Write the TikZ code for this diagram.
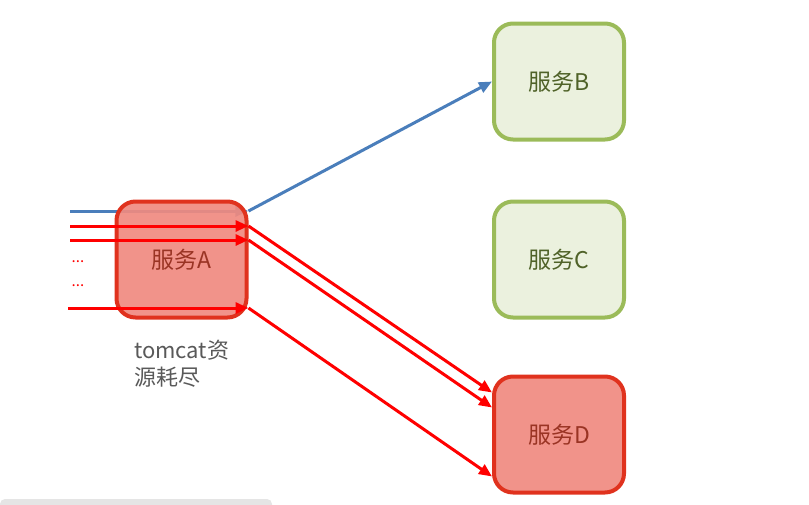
\documentclass[tikz,border=0pt]{standalone}
\usepackage{fontspec}
\setmainfont{Noto Sans CJK SC}
\usetikzlibrary{arrows.meta}
\definecolor{redfill}{HTML}{F08A80}
\definecolor{redborder}{HTML}{E0321E}
\definecolor{redtext}{HTML}{9A3424}
\definecolor{greenfill}{HTML}{EBF1DE}
\definecolor{greenborder}{HTML}{9BBB59}
\definecolor{greentext}{HTML}{4F6228}
\definecolor{bluearrow}{HTML}{4A7EBB}
\definecolor{labelgray}{HTML}{595959}
\tikzset{
  svcbox/.style={rounded corners=19pt, minimum width=130pt, minimum height=116pt, line width=4pt, font=\fontsize{23}{26}\selectfont, inner sep=0pt},
  redbox/.style={svcbox, draw=redborder, fill=redfill, fill opacity=0.92, text opacity=1, text=redtext},
  greenbox/.style={svcbox, draw=greenborder, fill=greenfill, text=greentext},
  redarrow/.style={draw=red, line width=3pt, -{Triangle[length=13pt,width=11pt]}},
  bluearr/.style={draw=bluearrow, line width=3pt, -{Triangle[length=13pt,width=11pt]}},
  dotlabel/.style={text=red, font=\fontsize{15}{16}\selectfont, inner sep=0pt}
}
\begin{document}
\begin{tikzpicture}[x=1pt,y=-1pt]
\useasboundingbox (0,0) rectangle (809,504);
\fill[black!10, rounded corners=5pt] (0,499) rectangle (272,512);
% coordinates of free ends
\coordinate (b0) at (70,211);
\coordinate (r1) at (70,226);
\coordinate (r2) at (70,240);
\coordinate (r3) at (68,308);
% blue line under A
\draw[bluearr] (b0) -- (248.25,211);
\node[redbox] (A) at (181.5,259.5) {服务A};
\node[greenbox] (B) at (559,81.5) {服务B};
\node[greenbox] (C) at (559,259.5) {服务C};
\node[redbox] (D) at (559,434.5) {服务D};
\draw[bluearr] (A.east |- b0) -- (B.west);
\draw[redarrow] (r1) -- (A.east |- r1);
\draw[redarrow] (r2) -- (A.east |- r2);
\draw[redarrow] (r3) -- (A.east |- r3);
\draw[redarrow] (A.east |- r1) -- ([yshift=42pt]D.west);
\draw[redarrow] (A.east |- r2) -- ([yshift=27pt]D.west);
\draw[redarrow] (A.east |- r3) -- ([yshift=-42pt]D.west);
\node[dotlabel] (d1) at (78,262) {...};
\node[dotlabel] (d2) at (78,286) {...};
\node[anchor=north west, align=left, text=labelgray, font=\fontsize{22}{27}\selectfont, inner sep=0pt] (lbl) at (134,340) {tomcat资\\源耗尽};
\end{tikzpicture}
\end{document}
